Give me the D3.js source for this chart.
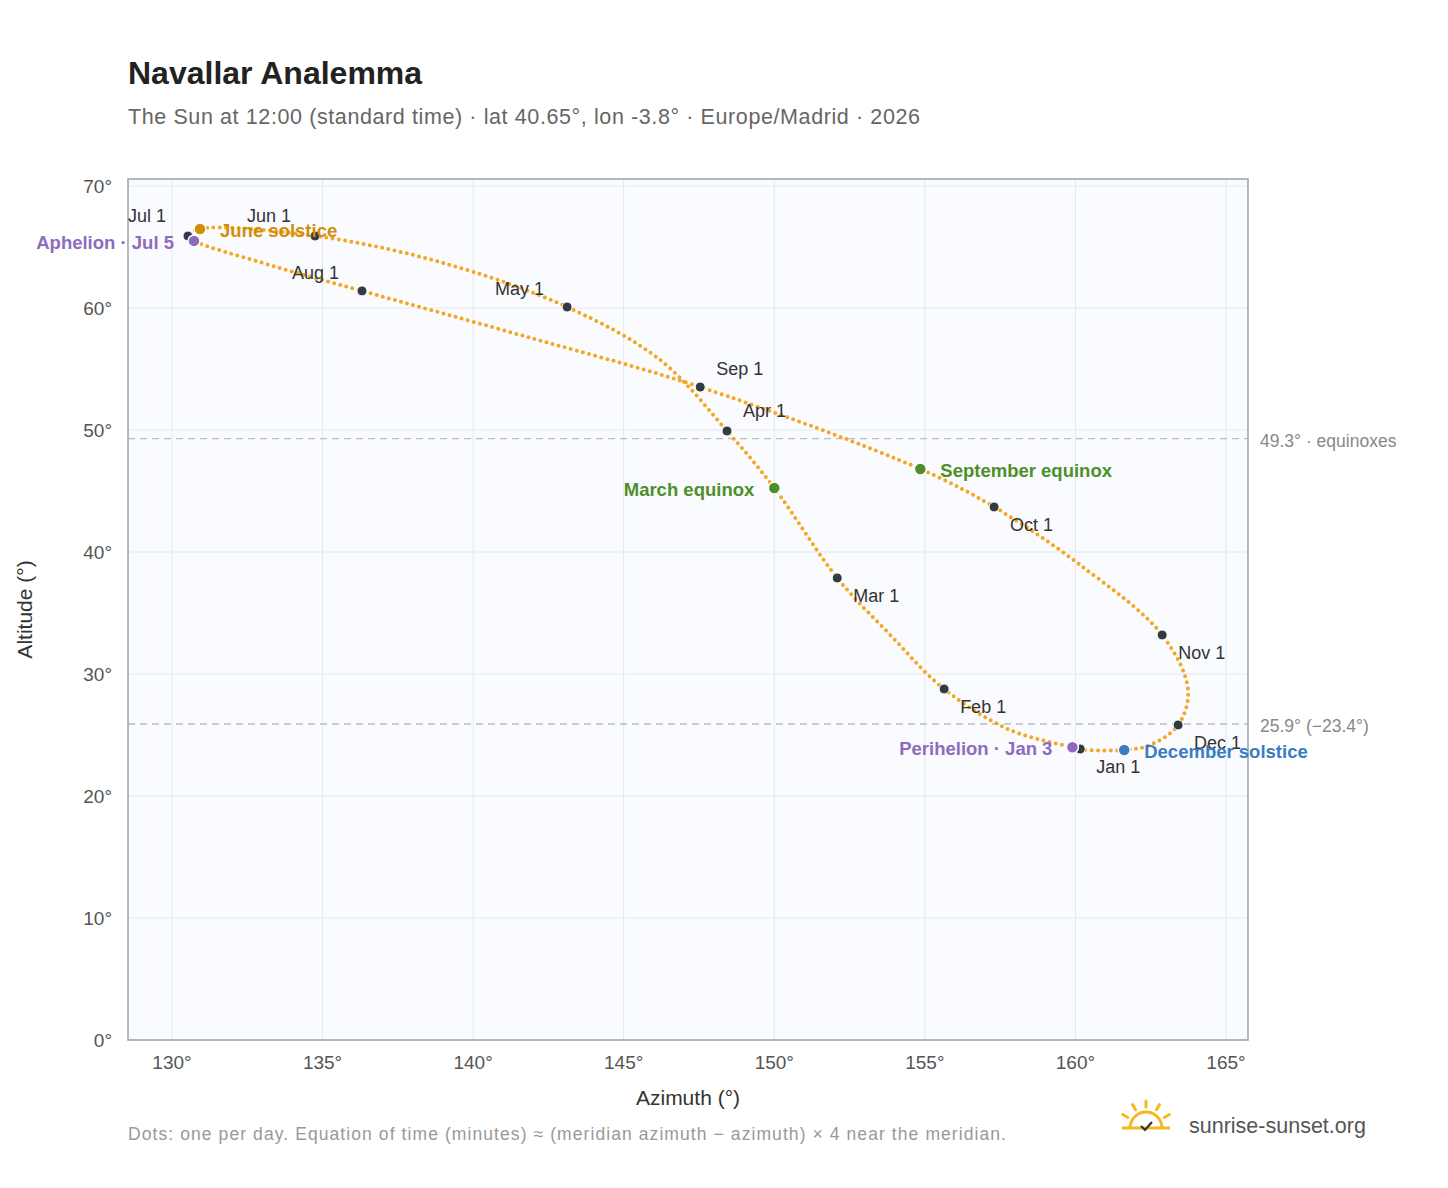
<!DOCTYPE html>
<html><head><meta charset="utf-8">
<script src="https://cdn.jsdelivr.net/npm/d3@7"></script>
<style>body{margin:0;background:#fff;font-family:"Liberation Sans",Arial,sans-serif}</style>
</head><body><div id="chart"></div>
<script>
// path of the sun through the year (azimuth, altitude)
const pathAz  = [160.16,159.9,157.83,155.64,153.85,152.09,150.0,148.43,146.21,143.12,138.9,134.75,130.93,130.53,130.73,133.25,136.31,141.56,147.54,154.85,157.3,160.16,162.88,163.74,163.41,162.48,161.62,160.32]
const pathAlt = [23.85,24.0,25.41,28.77,33.2,37.87,45.25,49.92,55.74,60.08,63.77,65.9,66.48,65.9,65.5,63.52,61.4,57.79,53.52,46.8,43.69,38.93,33.2,28.69,25.82,24.18,23.77,23.77]

const months = ["Jan 1","Feb 1","Mar 1","Apr 1","May 1","Jun 1","Jul 1","Aug 1","Sep 1","Oct 1","Nov 1","Dec 1"]
const monthAz  = [160.16,155.64,152.09,148.43,143.12,134.75,130.53,136.31,147.54,157.3,162.88,163.41]
const monthAlt = [23.85,28.77,37.87,49.92,60.08,65.9,65.9,61.4,53.52,43.69,33.2,25.82]
const monthDx = [16,16,16,16,-72,-68,-60,-70,16,16,16,16]
const monthDy = [24,24,24,-14,-12,-14,-14,-12,-12,24,24,24]

const events = ["June solstice","Aphelion · Jul 5","March equinox","September equinox","Perihelion · Jan 3","December solstice"]
const eventAz  = [130.93,130.73,150.0,154.85,159.9,161.62]
const eventAlt = [66.48,65.5,45.25,46.8,24.0,23.77]
const eventColor = ["#d08f0a","#8e6bbd","#4f8f2a","#4f8f2a","#8e6bbd","#3a7cc4"]
const eventAnchor = ["start","end","end","start","end","start"]

const xTicks = [130,135,140,145,150,155,160,165]
const yTicks = [0,10,20,30,40,50,60,70]
const refLines = [49.3, 25.9]
const refLabels = ["49.3° · equinoxes","25.9° (−23.4°)"]

const W = 1448, H = 1188
const L = 128, R = 1248, T = 179, B = 1040
const svg = d3.select("#chart").append("svg").attr("width", W).attr("height", H)
const x = d3.scaleLinear().domain([130,165]).range([172,1226])
const y = d3.scaleLinear().domain([0,70]).range([1040,186])

svg.append("text").attr("x",128).attr("y",84).attr("font-size",32).attr("font-weight","bold").attr("fill","#222").text("Navallar Analemma")
svg.append("text").attr("x",128).attr("y",124).attr("font-size",21.5).attr("fill","#666").attr("textLength",792).text("The Sun at 12:00 (standard time) · lat 40.65°, lon -3.8° · Europe/Madrid · 2026")

svg.append("rect").attr("x",L).attr("y",T).attr("width",R-L).attr("height",B-T).attr("fill","#f9fbfe")

svg.selectAll(".gx").data(xTicks).enter().append("line")
  .attr("x1",d=>x(d)).attr("x2",d=>x(d)).attr("y1",T).attr("y2",B).attr("stroke","#e3e7ee")
svg.selectAll(".gy").data(yTicks).enter().append("line")
  .attr("x1",L).attr("x2",R).attr("y1",d=>y(d)).attr("y2",d=>y(d)).attr("stroke","#e3e7ee")

svg.selectAll(".xt").data(xTicks).enter().append("text")
  .attr("x",d=>x(d)).attr("y",B+29).attr("text-anchor","middle").attr("font-size",19).attr("fill","#555").text(d=>d+"°")
svg.selectAll(".yt").data(yTicks).enter().append("text")
  .attr("x",L-16).attr("y",d=>y(d)+7).attr("text-anchor","end").attr("font-size",19).attr("fill","#555").text(d=>d+"°")

refLines.forEach((v,i) => {
  svg.append("line").attr("x1",L).attr("x2",R).attr("y1",y(v)).attr("y2",y(v))
    .attr("stroke","#b8bcc4").attr("stroke-dasharray","7 5").attr("stroke-width",1.3)
  svg.append("text").attr("x",R+12).attr("y",y(v)+8).attr("font-size",17.5).attr("fill","#888").text(refLabels[i])
})

svg.append("rect").attr("x",L).attr("y",T).attr("width",R-L).attr("height",B-T).attr("fill","none").attr("stroke","#98a2b0").attr("stroke-width",1.5)

const pts = pathAz.map((a,i)=>[x(a), y(pathAlt[i])])
const line = d3.line().curve(d3.curveCatmullRom.alpha(0.5))
svg.append("path").attr("d", line(pts)).attr("fill","none").attr("stroke","#f5a623")
  .attr("stroke-width",4).attr("stroke-linecap","round").attr("stroke-dasharray","0 6.3")

svg.selectAll(".md").data(months).enter().append("circle")
  .attr("cx",(d,i)=>x(monthAz[i])).attr("cy",(d,i)=>y(monthAlt[i])).attr("r",5)
  .attr("fill","#333a44").attr("stroke","#fff").attr("stroke-width",1)
svg.selectAll(".ml").data(months).enter().append("text")
  .attr("x",(d,i)=>x(monthAz[i])+monthDx[i]).attr("y",(d,i)=>y(monthAlt[i])+monthDy[i])
  .attr("font-size",18).attr("fill","#333").text(d=>d)

svg.selectAll(".ed").data(events).enter().append("circle")
  .attr("cx",(d,i)=>x(eventAz[i])).attr("cy",(d,i)=>y(eventAlt[i])).attr("r",6)
  .attr("fill",(d,i)=>eventColor[i]).attr("stroke","#fff").attr("stroke-width",1.5)
svg.selectAll(".el").data(events).enter().append("text")
  .attr("x",(d,i)=>x(eventAz[i])+(eventAnchor[i]=="start"?20:-20)).attr("y",(d,i)=>y(eventAlt[i])+8)
  .attr("text-anchor",(d,i)=>eventAnchor[i]).attr("font-size",18.5).attr("font-weight","bold")
  .attr("fill",(d,i)=>eventColor[i]).text(d=>d)

svg.append("text").attr("x",(L+R)/2).attr("y",1105).attr("text-anchor","middle").attr("font-size",21).attr("fill","#333").text("Azimuth (°)")
svg.append("text").attr("transform",`translate(32,${(T+B)/2}) rotate(-90)`).attr("text-anchor","middle").attr("font-size",21).attr("fill","#333").text("Altitude (°)")
svg.append("text").attr("x",128).attr("y",1140).attr("font-size",17.5).attr("fill","#999").attr("textLength",878)
  .text("Dots: one per day. Equation of time (minutes) ≈ (meridian azimuth − azimuth) × 4 near the meridian.")

// logo
const lg = svg.append("g").attr("transform","translate(1146,1128)")
lg.append("path").attr("d","M-16,0 A16,16 0 0,1 16,0").attr("fill","none").attr("stroke","#f5b91e").attr("stroke-width",3)
;[-150,-120,-90,-60,-30].forEach(a => {
  const r = a*Math.PI/180
  lg.append("line").attr("x1",21*Math.cos(r)).attr("y1",21*Math.sin(r)).attr("x2",27*Math.cos(r)).attr("y2",27*Math.sin(r))
    .attr("stroke","#f5b91e").attr("stroke-width",3).attr("stroke-linecap","round")
})
lg.append("line").attr("x1",-24).attr("x2",24).attr("y1",0).attr("y2",0).attr("stroke","#f5b91e").attr("stroke-width",3)
lg.append("path").attr("d","M-5,-2 L-1,2 L6,-6").attr("fill","none").attr("stroke","#333").attr("stroke-width",2.2)
svg.append("text").attr("x",1189).attr("y",1133).attr("font-size",21.5).attr("fill","#555").text("sunrise-sunset.org")
</script></body></html>
